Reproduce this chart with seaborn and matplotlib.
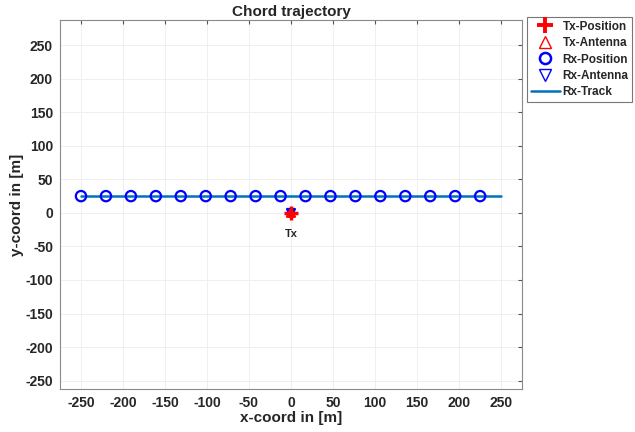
import numpy as np
import pandas as pd
import matplotlib
matplotlib.use('Agg')
import matplotlib.pyplot as plt
from matplotlib.lines import Line2D
import seaborn as sns

# values
rx_x = [-250, -220.3, -190.6, -160.9, -131.2, -101.5, -71.8, -42.1, -12.4,
        17.3, 47.0, 76.7, 106.4, 136.1, 165.8, 195.5, 225.2]
rx_y = [25] * len(rx_x)
track_x = [-250, 250]
track_y = [25, 25]
tx_x = [0]
tx_y = [0]
xticks = list(range(-250, 251, 50))
yticks = list(range(-250, 251, 50))

sns.set_style('white')
plt.rcParams['font.family'] = ['Liberation Sans', 'DejaVu Sans']
plt.rcParams['font.weight'] = 'bold'
plt.rcParams['axes.unicode_minus'] = False

fig = plt.figure(figsize=(6.35, 4.32), dpi=100)
ax = fig.add_axes([0.0945, 0.0995, 0.7275, 0.8542])

track_col = '#0072BD'
blue = '#0000FF'
red = '#FF0000'
sns.lineplot(x=track_x, y=track_y, ax=ax, color=track_col, linewidth=1.8,
             legend=False, zorder=2)
sns.scatterplot(x=rx_x, y=rx_y, ax=ax, marker='o', s=55, facecolor='none',
                edgecolor=blue, linewidth=1.6, legend=False, zorder=3)
sns.scatterplot(x=tx_x, y=tx_y, ax=ax, marker='v', s=30, facecolor='none',
                edgecolor=blue, linewidth=1.8, legend=False, zorder=4)
sns.scatterplot(x=tx_x, y=tx_y, ax=ax, marker='^', s=30, facecolor='none',
                edgecolor=red, linewidth=1.8, legend=False, zorder=5)
sns.scatterplot(x=tx_x, y=tx_y, ax=ax, marker='+', s=90, color=red,
                linewidth=2.5, legend=False, zorder=6)
ax.text(0, -32, 'Tx', ha='center', va='center', fontsize=8, fontweight='bold')

ax.set_xlim(-275, 275)
ax.set_ylim(-262.5, 287.5)
ax.set_xticks(xticks)
ax.set_yticks(yticks)
ax.tick_params(direction='in', length=3, top=True, right=True, labelsize=10,
               color='#555555', labelcolor='#262626', pad=5)
for lab in ax.get_xticklabels() + ax.get_yticklabels():
    lab.set_fontweight('bold')
ax.grid(True, color='#EFEFEF', linewidth=0.7)
for sp in ax.spines.values():
    sp.set_color('#8A8A8A')
    sp.set_linewidth(0.8)

ax.set_title('Chord trajectory', fontsize=11, fontweight='bold', pad=3)
ax.set_xlabel('x-coord in [m]', fontsize=11, fontweight='bold', color='#262626', labelpad=1)
ax.set_ylabel('y-coord in [m]', fontsize=11, fontweight='bold', color='#262626', labelpad=1)

order = ['Tx-Position', 'Tx-Antenna', 'Rx-Position', 'Rx-Antenna', 'Rx-Track']
handles = [
    Line2D([], [], linestyle='none', marker='+', color=red, markersize=11, markeredgewidth=2.8),
    Line2D([], [], linestyle='none', marker='^', color=red, markerfacecolor='none', markersize=8, markeredgewidth=1),
    Line2D([], [], linestyle='none', marker='o', color=blue, markerfacecolor='none', markersize=8, markeredgewidth=1.8),
    Line2D([], [], linestyle='none', marker='v', color=blue, markerfacecolor='none', markersize=8, markeredgewidth=1),
    Line2D([], [], color=track_col, linewidth=1.8),
]
leg = fig.legend(handles, order, loc='upper left',
                 bbox_to_anchor=(527 / 635, 1 - 17 / 432), bbox_transform=fig.transFigure,
                 frameon=True, fancybox=False,
                 fontsize=8.5, handlelength=2.5, handletextpad=0.2,
                 labelspacing=0.38, borderpad=0.3, borderaxespad=0)
leg.get_frame().set_edgecolor('#555555')
leg.get_frame().set_linewidth(0.8)
for t in leg.get_texts():
    t.set_fontweight('bold')

fig.savefig('out.png', dpi=100)
